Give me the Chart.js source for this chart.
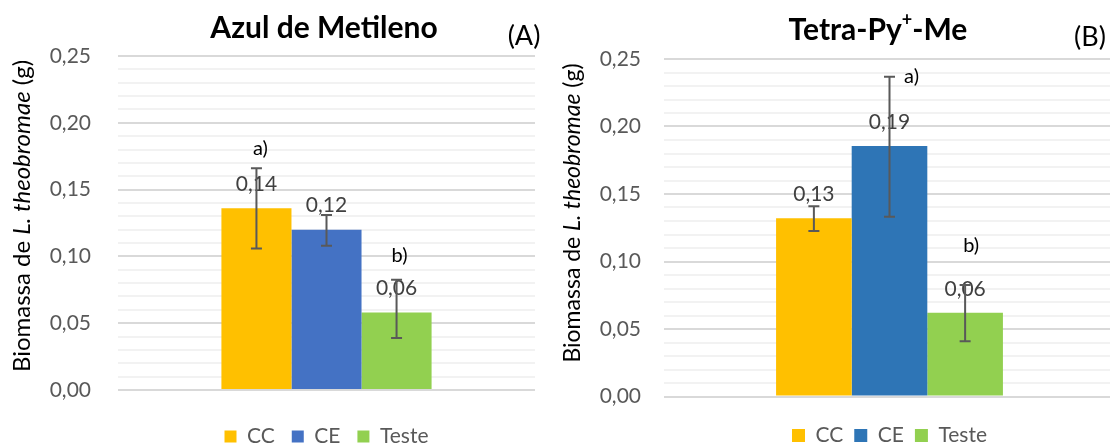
<!DOCTYPE html>
<html>
<head>
<meta charset="utf-8">
<script src="https://cdn.jsdelivr.net/npm/chart.js@4.4.1/dist/chart.umd.min.js"></script>
<style>
  html, body { margin: 0; padding: 0; background: #fff; overflow: hidden; }
  #wrap { position: relative; width: 1110px; height: 445px; overflow: hidden; background: #fff; }
  .panel { position: absolute; top: 0; }
  #pA { left: 0; width: 555px; height: 457px; }
  #pB { left: 555px; width: 560px; height: 456px; }
</style>
</head>
<body>
<div id="wrap">
  <div class="panel" id="pA"><canvas id="cA"></canvas></div>
  <div class="panel" id="pB"><canvas id="cB"></canvas></div>
</div>
<script>
// Grupos (séries) e eixo
const series = ['CC', 'CE', 'Teste'];
const ticksPrincipais = [0, 0.05, 0.10, 0.15, 0.20, 0.25];
const rotulosTicks = ['0,00', '0,05', '0,10', '0,15', '0,20', '0,25'];

// (A) Azul de Metileno
const valoresA = [0.136, 0.120, 0.058];
const errMaisA = [0.030, 0.011, 0.0245];
const errMenosA = [0.030, 0.012, 0.019];
const letrasA = ['a)', '', 'b)'];
const letrasPosA = [0.181, null, 0.101];

// (B) Tetra-Py+-Me
const valoresB = [0.132, 0.1856, 0.062];
const errMaisB = [0.009, 0.0513, 0.0206];
const errMenosB = [0.0094, 0.0524, 0.021];
const letrasB = ['', 'a)', 'b)'];
const letrasPosB = [null, 0.237, 0.112];

Chart.defaults.font.family = 'Lato';
Chart.defaults.animation = false;

const fmt = v => v.toFixed(2).replace('.', ',');
const ehPrincipal = v => ticksPrincipais.some(m => Math.abs(m - v) < 1e-9);

function desenharPartes(ctx, partes, cx, cy) {
  let total = 0;
  partes.forEach(p => { ctx.font = p.f; p.w = ctx.measureText(p.t).width; total += p.w; });
  let x = cx - total / 2;
  partes.forEach(p => { ctx.font = p.f; ctx.fillText(p.t, x, cy + (p.dy || 0)); x += p.w; });
}

function criarGrafico(id, cfg) {
  const extras = {
    id: 'extras_' + id,
    afterDatasetsDraw(chart) {
      const ctx = chart.ctx, y = chart.scales.y;
      ctx.save();
      ctx.textAlign = 'center';
      ctx.textBaseline = 'middle';
      // rótulos de valor
      ctx.font = '21px Lato';
      ctx.fillStyle = '#404040';
      chart.data.datasets.forEach((ds, i) => {
        const bar = chart.getDatasetMeta(i).data[0];
        ctx.fillText(fmt(ds.data[0]), bar.x, bar.y - 24);
      });
      // barras de erro
      ctx.strokeStyle = '#595959';
      ctx.lineWidth = 2;
      chart.data.datasets.forEach((ds, i) => {
        const bar = chart.getDatasetMeta(i).data[0];
        const v = ds.data[0];
        const yHi = y.getPixelForValue(v + cfg.errMais[i]);
        const yLo = y.getPixelForValue(v - cfg.errMenos[i]);
        const c = 5.5;
        ctx.beginPath();
        ctx.moveTo(bar.x, yHi); ctx.lineTo(bar.x, yLo);
        ctx.moveTo(bar.x - c, yHi); ctx.lineTo(bar.x + c, yHi);
        ctx.moveTo(bar.x - c, yLo); ctx.lineTo(bar.x + c, yLo);
        ctx.stroke();
      });
      // letras de significância
      ctx.font = '20px Lato';
      ctx.fillStyle = '#000';
      cfg.letras.forEach((t, i) => {
        if (!t) return;
        const bar = chart.getDatasetMeta(i).data[0];
        ctx.fillText(t, bar.x + cfg.letraDx[i], y.getPixelForValue(cfg.letrasPos[i]));
      });
      ctx.restore();
    },
    afterDraw(chart) {
      const ctx = chart.ctx;
      ctx.save();
      ctx.fillStyle = '#000';
      ctx.textAlign = 'left';
      ctx.textBaseline = 'middle';
      desenharPartes(ctx, cfg.titulo, cfg.tituloX, cfg.tituloY);
      ctx.font = '27px Lato';
      ctx.textAlign = 'center';
      ctx.fillText(cfg.tag, cfg.tagX, cfg.tagY);
      // título do eixo Y
      ctx.translate(cfg.yTitX, cfg.yTitY);
      ctx.rotate(-Math.PI / 2);
      ctx.textAlign = 'left';
      const f = cfg.yTitFonte + 'px Lato';
      desenharPartes(ctx, [
        { t: 'Biomassa de ', f: f },
        { t: 'L. theobromae', f: 'italic ' + f },
        { t: ' (g)', f: f }
      ], 0, 0);
      ctx.restore();
    }
  };

  return new Chart(document.getElementById(id), {
    type: 'bar',
    data: {
      labels: [''],
      datasets: series.map((s, i) => ({
        label: s,
        data: [cfg.valores[i]],
        backgroundColor: cfg.cores[i],
        borderWidth: 0,
        categoryPercentage: cfg.catPct,
        barPercentage: 1
      }))
    },
    options: {
      responsive: true,
      maintainAspectRatio: false,
      devicePixelRatio: 1,
      layout: { padding: { top: cfg.topo, right: cfg.direita, left: 0, bottom: 0 } },
      scales: {
        x: {
          grid: { display: false },
          border: { display: false },
          ticks: { display: false },
          afterFit: s => { s.height = cfg.xAltura; }
        },
        y: {
          min: 0,
          max: 0.25,
          afterBuildTicks: s => {
            s.ticks = Array.from({ length: 26 }, (_, k) => ({ value: k / 100 }));
          },
          afterFit: s => { s.width = cfg.yLargura; },
          border: { display: false },
          grid: {
            drawTicks: false,
            lineWidth: 2,
            color: c => ehPrincipal(c.tick.value) ? '#D9D9D9' : '#F2F2F2'
          },
          ticks: {
            autoSkip: false,
            padding: cfg.tickPad,
            color: '#595959',
            font: { size: 21 },
            callback: v => {
              const k = ticksPrincipais.findIndex(m => Math.abs(m - v) < 1e-9);
              return k >= 0 ? rotulosTicks[k] : '';
            }
          }
        }
      },
      plugins: {
        title: { display: false },
        tooltip: { enabled: false },
        legend: {
          position: 'bottom',
          fullSize: false,
          onClick: null,
          labels: {
            boxWidth: cfg.caixa,
            boxHeight: cfg.caixa,
            padding: cfg.legPad,
            color: '#595959',
            font: { size: 21 }
          }
        }
      }
    },
    plugins: [extras]
  });
}

criarGrafico('cA', {
  valores: valoresA, errMais: errMaisA, errMenos: errMenosA,
  letras: letrasA, letrasPos: letrasPosA, letraDx: [4, 0, 3],
  cores: ['#FFC000', '#4472C4', '#92D050'],
  catPct: 0.504,
  topo: 56, direita: 20, yLargura: 118, tickPad: 27, xAltura: 19,
  caixa: 12, legPad: 17,
  titulo: [{ t: 'Azul de Metileno', f: 'bold 30px Lato' }],
  tituloX: 324, tituloY: 28,
  tag: '(A)', tagX: 524, tagY: 36,
  yTitX: 22, yTitY: 216, yTitFonte: 24
});

criarGrafico('cB', {
  valores: valoresB, errMais: errMaisB, errMenos: errMenosB,
  letras: letrasB, letrasPos: letrasPosB, letraDx: [0, 22, 6],
  cores: ['#FFC000', '#2E75B6', '#92D050'],
  catPct: 0.503,
  topo: 59, direita: 0, yLargura: 109, tickPad: 23, xAltura: 17.5,
  caixa: 13, legPad: 11,
  titulo: [
    { t: 'Tetra-Py', f: 'bold 30px Lato' },
    { t: '+', f: 'bold 18px Lato', dy: -10 },
    { t: '-Me', f: 'bold 30px Lato' }
  ],
  tituloX: 323, tituloY: 30,
  tag: '(B)', tagX: 535, tagY: 37,
  yTitX: 18, yTitY: 213, yTitFonte: 23
});
</script>
</body>
</html>
